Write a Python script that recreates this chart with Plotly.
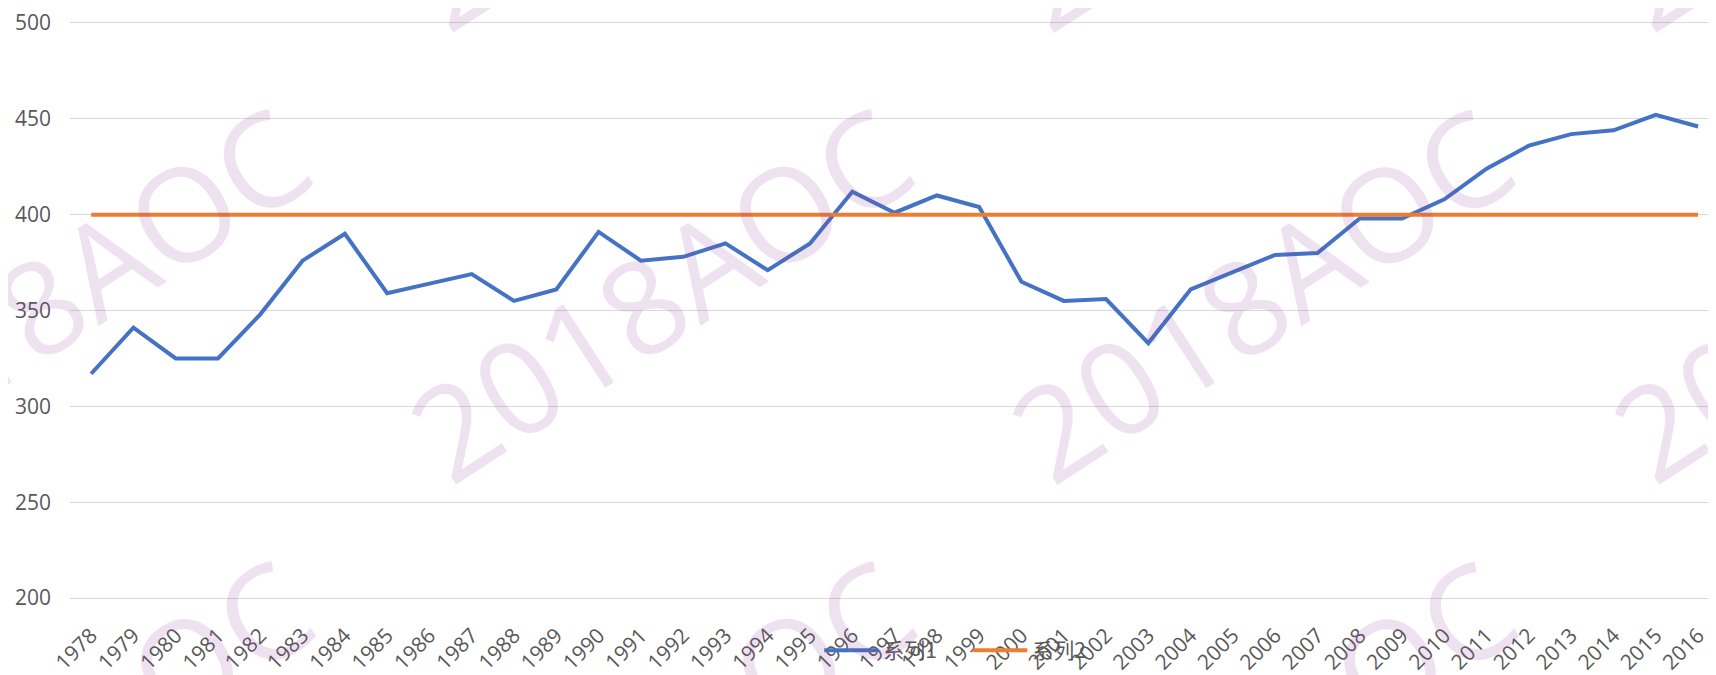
import plotly.graph_objects as go

years = [str(y) for y in range(1978, 2017)]
series1 = [317, 341, 325, 325, 348, 376, 390, 359, 364, 369, 355, 361, 391,
           376, 378, 385, 371, 385, 412, 401, 410, 404, 365, 355, 356, 333,
           361, 370, 379, 380, 398, 398, 408, 424, 436, 442, 444, 452, 446]
series2 = [400] * len(years)
names = ["系列1", "系列2"]
y_ticks = [200, 250, 300, 350, 400, 450, 500]
watermark = "2018AOC"

# page has an 8px body margin; figure placed at (8, 8)
OFF = 8
W, H = 1716 - OFF, 675 - OFF
PXU = 585 / 300.0          # pixels per y unit
EPS = 1.0                  # y padding (units) so end gridlines are drawn
L, R = 69.5 - OFF, 0
T = 21.7 - OFF - EPS * PXU
B = 68.3 - EPS * PXU
PW, PH = W - L - R, H - T - B

def page_to_paper(x, y):
    return (x - OFF - L) / PW, (H - B - (y - OFF)) / PH

fig = go.Figure()
fig.add_trace(go.Scatter(x=years, y=series1, name=names[0], mode="lines",
                         line=dict(color="#4472C4", width=4)))
fig.add_trace(go.Scatter(x=years, y=series2, name=names[1], mode="lines",
                         line=dict(color="#ED7D31", width=4)))

annotations = []
for m in (-1, 0, 1):
    for k in range(0, 4):
        cx = 56.8 + 602 * k + 3 * m
        cy = 296 + 460 * m
        xp, yp = page_to_paper(cx, cy)
        annotations.append(dict(
            x=xp, y=yp, xref="paper", yref="paper", text=watermark,
            showarrow=False, textangle=-33, xanchor="center", yanchor="middle",
            font=dict(family="Open Sans", size=130, color="rgba(148,62,155,0.15)")))

lx, ly = page_to_paper(819, 660)
fig.update_layout(
    width=W, height=H,
    margin=dict(l=L, r=R, t=T, b=B, pad=0),
    paper_bgcolor="white", plot_bgcolor="white",
    font=dict(family="Open Sans", size=21, color="#595959"),
    xaxis=dict(type="category", range=[-0.5, -0.5 + PW / 42.3],
               showgrid=False, zeroline=False, showline=False,
               tickangle=-45, ticks="", ticklabelstandoff=18,
               tickfont=dict(size=21, color="#595959")),
    yaxis=dict(range=[200 - EPS, 500 + EPS], tickvals=y_ticks, showgrid=True,
               gridcolor="#D9D9D9", gridwidth=1.3, zeroline=False,
               showline=False, ticks="", ticklabelstandoff=18,
               ticklabeloverflow="allow",
               tickfont=dict(size=21, color="#595959")),
    showlegend=True,
    legend=dict(orientation="h", x=lx, y=ly, xanchor="left", yanchor="middle",
                bgcolor="rgba(0,0,0,0)", itemwidth=54, entrywidth=80,
                font=dict(family="Noto Sans CJK SC, Open Sans", size=21, color="#595959")),
    annotations=annotations,
)
fig.write_html("out.html")
